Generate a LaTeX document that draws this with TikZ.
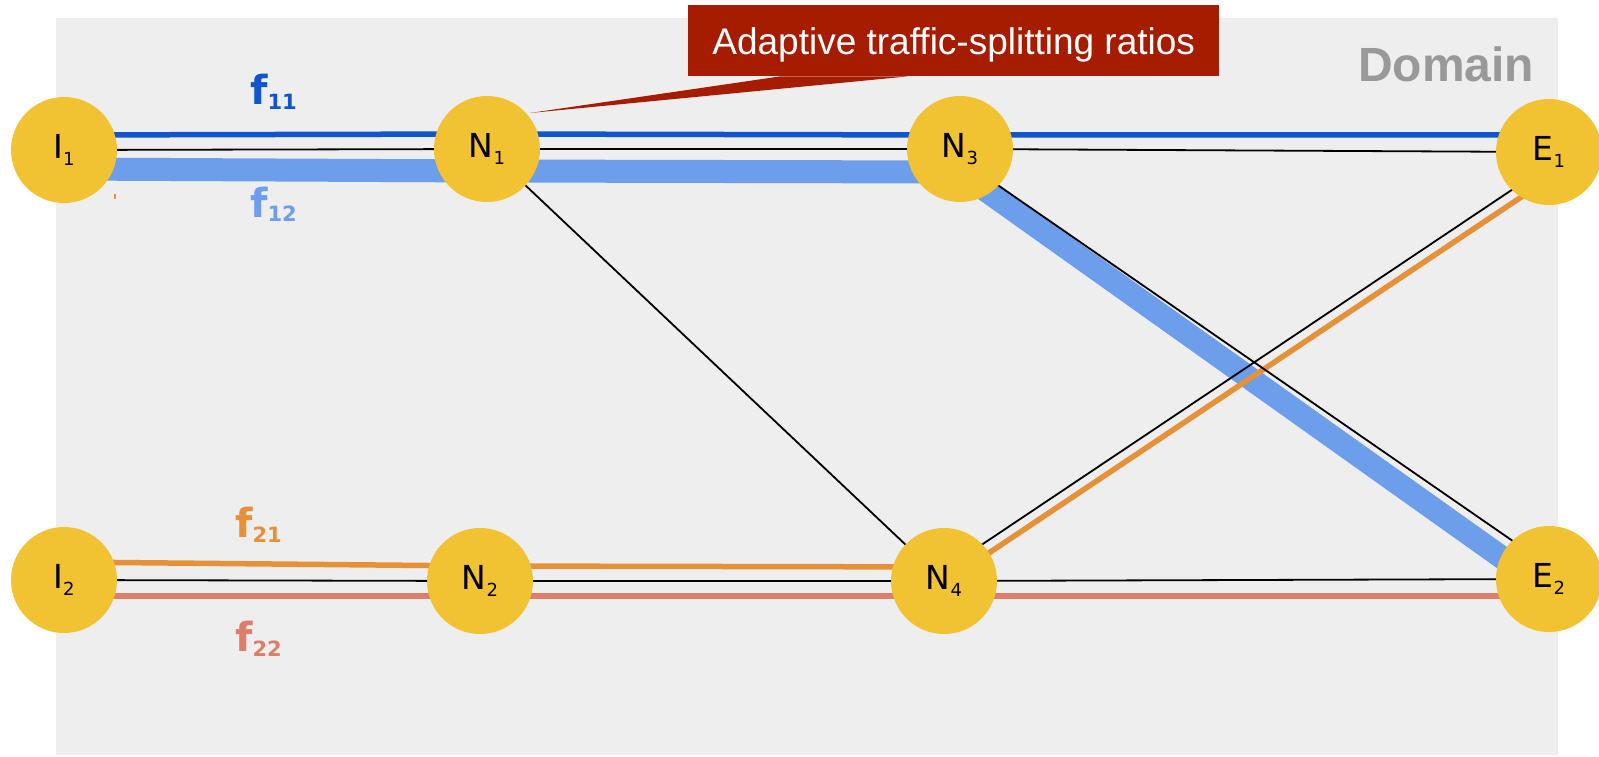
\documentclass[tikz,border=0pt]{standalone}
\usepackage{fontspec}
\newfontfamily\nodefont{DejaVu Sans}
\newfontfamily\arialfont{Liberation Sans}

\definecolor{nodeY}{HTML}{F1C232}
\definecolor{bgGrey}{HTML}{EEEEEE}
\definecolor{domGrey}{HTML}{999999}
\definecolor{calloutRed}{HTML}{A61C00}
\definecolor{fOneOne}{HTML}{1155CC}
\definecolor{fOneTwo}{HTML}{6D9EEB}
\definecolor{fTwoOne}{HTML}{E69138}
\definecolor{fTwoTwo}{HTML}{DD7E6B}

% subscripts for node names and flow labels
\newcommand\nsub[1]{\raisebox{-7pt}{\fontsize{18}{18}\selectfont #1}}
\newcommand\fsub[1]{\raisebox{-5pt}{\fontsize{21}{21}\selectfont #1}}

\pgfdeclarelayer{back}
\pgfdeclarelayer{links}
\pgfsetlayers{back,links,main}

\begin{document}
\begin{tikzpicture}[x=1pt,y=-1pt,
  nd/.style={circle,fill=nodeY,minimum size=106pt,inner sep=0pt,
    font=\nodefont\fontsize{33}{33}\selectfont},
  link/.style={black,line width=1.8pt},
  flowthin/.style={line width=5.5pt,line join=round},
  flowthick/.style={line width=23pt,line join=round},
  flab/.style={anchor=base west,inner sep=0pt,
    font=\nodefont\bfseries\fontsize{40}{40}\selectfont}
]
\useasboundingbox (0,0) rectangle (1599,757);

% domain area
\begin{pgfonlayer}{back}
  \fill[bgGrey] (56,18.5) rectangle (1558,755);
\end{pgfonlayer}

% routers
\node[nd] (I1) at (64,150)  {I\nsub{1}};
\node[nd] (N1) at (487,149) {N\nsub{1}};
\node[nd] (N3) at (960,149) {N\nsub{3}};
\node[nd] (E1) at (1549,152) {E\nsub{1}};
\node[nd] (I2) at (64,580)  {I\nsub{2}};
\node[nd] (N2) at (480,581) {N\nsub{2}};
\node[nd] (N4) at (944,581) {N\nsub{4}};
\node[nd] (E2) at (1549,579) {E\nsub{2}};

\begin{pgfonlayer}{links}
  % flow f11
  \draw[flowthin,fOneOne] ([yshift=15pt]I1.center) -- ([yshift=15pt]N1.center)
    -- ([yshift=14pt]N3.center) -- ([yshift=17pt]E1.center);
  % flow f12
  \draw[flowthick,fOneTwo] ([yshift=-19pt]I1.center) -- ([yshift=-22pt]N1.center)
    -- ([yshift=-23pt]N3.center) -- ([yshift=-12pt]E2.center);
  % flow f21
  \draw[flowthin,fTwoOne] ([yshift=18pt]I2.center) -- ([yshift=15pt]N2.center)
    -- ([xshift=24pt,yshift=14pt]N4.center) -- ([yshift=-26.5pt]E1.center);
  % flow f22
  \draw[flowthin,fTwoTwo] ([yshift=-16pt]I2.center) -- ([yshift=-15pt]N2.center)
    -- ([yshift=-15pt]N4.center) -- ([yshift=-17pt]E2.center);
  % physical links
  \draw[link] (I1.center) -- (N1.center);
  \draw[link] (N1.center) -- (N3.center);
  \draw[link] (N3.center) -- (E1.center);
  \draw[link] (N1.center) -- (N4.center);
  \draw[link] ([yshift=-10pt]N3.center) -- ([yshift=13pt]E2.center);
  \draw[link] ([yshift=11pt]N4.center) -- ([yshift=-13pt]E1.center);
  \draw[link] (I2.center) -- (N2.center);
  \draw[link] (N2.center) -- (N4.center);
  \draw[link] (N4.center) -- (E2.center);
  % small orange tick below I1
  \coordinate (tickA) at (115,194);
  \coordinate (tickB) at (115,199);
  \draw[fTwoOne,line width=1.5pt] (tickA) -- (tickB);
\end{pgfonlayer}

% flow labels
\node[flab,text=fOneOne] (lf11) at (250,105) {f\fsub{11}};
\node[flab,text=fOneTwo] (lf12) at (250,217) {f\fsub{12}};
\node[flab,text=fTwoOne] (lf21) at (235,537) {f\fsub{21}};
\node[flab,text=fTwoTwo] (lf22) at (235,651) {f\fsub{22}};

% callout
\node[fill=calloutRed,text=white,anchor=north west,inner sep=0pt,
  minimum width=531pt,minimum height=71pt,text height=27pt,text depth=0pt,
  font=\arialfont\fontsize{37}{37}\selectfont] (callout) at (688,5)
  {Adaptive traffic-splitting ratios};
\coordinate (tip) at (530,113);
\fill[calloutRed] ([xshift=92pt]callout.south west) -- (tip)
  -- ([xshift=220pt]callout.south west) -- cycle;

% domain title
\node[anchor=base west,inner sep=0pt,text=domGrey,
  font=\arialfont\bfseries\fontsize{48}{48}\selectfont] (domain) at (1358,81.5) {Domain};
\end{tikzpicture}
\end{document}
